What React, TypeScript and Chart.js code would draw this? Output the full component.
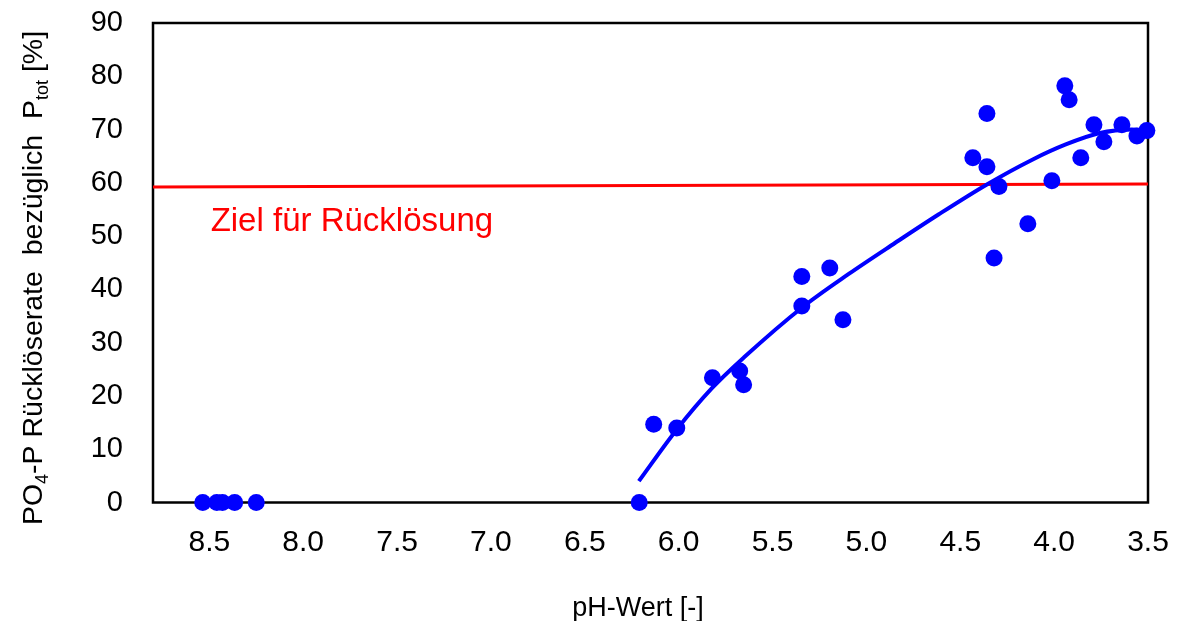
import React, { useEffect, useRef } from "react";
import { Chart, registerables } from "chart.js";

Chart.register(...registerables);

// Measured points: pH value and PO4-P release rate [%]
const measuredPH = [8.535, 8.46, 8.43, 8.365, 8.25, 6.21, 6.133, 6.01, 5.82, 5.675, 5.654, 5.344, 5.344, 5.195, 5.125, 4.433, 4.358, 4.358, 4.294, 4.32, 4.14, 4.012, 3.943, 3.92, 3.858, 3.788, 3.735, 3.639, 3.559, 3.506];
const measuredRate = [0, 0, 0, 0, 0, 0, 14.7, 14.0, 23.4, 24.7, 22.1, 42.4, 36.9, 44.0, 34.3, 64.7, 73.0, 63.0, 59.3, 45.9, 52.3, 60.4, 78.2, 75.6, 64.7, 70.9, 67.7, 70.9, 68.8, 69.8];

// Trend line
const trendPH = [6.212, 6.01, 5.824, 5.653, 5.339, 5.094, 4.848, 4.614, 4.358, 4.119, 3.938, 3.762, 3.586, 3.506];
const trendRate = [4.0, 13.7, 21.4, 27.2, 36.7, 42.9, 48.7, 54.1, 59.7, 64.3, 67.2, 69.3, 70.0, 69.8];

// Target line
const targetPH = [8.8, 3.5];
const targetRate = [59.2, 59.8];
const targetLabel = "Ziel für Rücklösung";
const targetLabelPH = 8.493;
const targetLabelRate = 51.0;

// Axes
const xTicks = [8.5, 8.0, 7.5, 7.0, 6.5, 6.0, 5.5, 5.0, 4.5, 4.0, 3.5];
const xMin = 3.5;
const xMax = 8.8;
const yMin = 0;
const yMax = 90;
const yStep = 10;
const xTitle = "pH-Wert [-]";
const yTitleParts: { t: string; sub: boolean }[] = [
  { t: "PO", sub: false },
  { t: "4", sub: true },
  { t: "-P Rücklöserate  bezüglich  P", sub: false },
  { t: "tot", sub: true },
  { t: " [%]", sub: false },
];

const FONT = "'Liberation Sans', Arial, sans-serif";

export default function App() {
  const ref = useRef<HTMLCanvasElement | null>(null);

  useEffect(() => {
    if (!ref.current) return;

    const boxPlugin = {
      id: "boxPlugin",
      beforeDatasetsDraw(chart: any) {
        const { ctx, chartArea } = chart;
        ctx.save();
        ctx.strokeStyle = "#000";
        ctx.lineWidth = 2.5;
        ctx.strokeRect(chartArea.left, chartArea.top, chartArea.right - chartArea.left, chartArea.bottom - chartArea.top);
        ctx.restore();
      },
    };

    const textPlugin = {
      id: "textPlugin",
      afterDraw(chart: any) {
        const { ctx, scales } = chart;
        const xs = scales.x;
        const ys = scales.y;
        ctx.save();
        // target label
        ctx.fillStyle = "#ff0000";
        ctx.font = `33px ${FONT}`;
        ctx.textAlign = "left";
        ctx.textBaseline = "alphabetic";
        ctx.fillText(targetLabel, xs.getPixelForValue(targetLabelPH), ys.getPixelForValue(targetLabelRate));

        // x title
        ctx.fillStyle = "#000";
        ctx.font = `27px ${FONT}`;
        ctx.textAlign = "center";
        ctx.fillText(xTitle, 638, 616);

        // y title with subscripts
        const size = 28.5;
        const subSize = 18;
        const measure = (p: { t: string; sub: boolean }) => {
          ctx.font = `${p.sub ? subSize : size}px ${FONT}`;
          return ctx.measureText(p.t).width;
        };
        const total = yTitleParts.reduce((s, p) => s + measure(p), 0);
        ctx.translate(42, 278);
        ctx.rotate(-Math.PI / 2);
        ctx.textAlign = "left";
        let x = -total / 2;
        for (const p of yTitleParts) {
          ctx.font = `${p.sub ? subSize : size}px ${FONT}`;
          ctx.fillText(p.t, x, p.sub ? 6 : 0);
          x += ctx.measureText(p.t).width;
        }
        ctx.restore();
      },
    };

    const chart = new Chart(ref.current, {
      type: "scatter",
      data: {
        datasets: [
          {
            label: "Messwerte",
            data: measuredPH.map((x, i) => ({ x, y: measuredRate[i] })),
            backgroundColor: "#0000ff",
            borderColor: "#0000ff",
            pointRadius: 8.5,
            pointBorderWidth: 0,
            showLine: false,
            clip: false as any,
          },
          {
            label: "Trend",
            data: trendPH.map((x, i) => ({ x, y: trendRate[i] })),
            borderColor: "#0000ff",
            backgroundColor: "#0000ff",
            borderWidth: 4,
            pointRadius: 0,
            showLine: true,
            cubicInterpolationMode: "monotone",
          },
          {
            label: "Ziel",
            data: targetPH.map((x, i) => ({ x, y: targetRate[i] })),
            borderColor: "#ff0000",
            backgroundColor: "#ff0000",
            borderWidth: 3,
            pointRadius: 0,
            showLine: true,
          },
        ],
      },
      options: {
        animation: false,
        responsive: true,
        maintainAspectRatio: false,
        layout: { padding: { left: 0, right: 30, top: 23, bottom: 0 } },
        plugins: { legend: { display: false }, tooltip: { enabled: false } },
        scales: {
          x: {
            type: "linear",
            reverse: true,
            min: xMin,
            max: xMax,
            grid: { display: false, drawTicks: false },
            border: { display: false },
            afterBuildTicks: (scale: any) => {
              scale.ticks = xTicks.map((v) => ({ value: v }));
            },
            afterFit: (scale: any) => {
              scale.height = 118.5;
              scale.paddingLeft = 0;
              scale.paddingRight = 0;
              scale.paddingTop = 0;
              scale.paddingBottom = 0;
            },
            ticks: {
              color: "#000",
              font: { family: FONT, size: 30 },
              padding: 22,
              maxRotation: 0,
              autoSkip: false,
              callback: (v: any) => Number(v).toFixed(1),
            },
          },
          y: {
            type: "linear",
            min: yMin,
            max: yMax,
            grid: { display: false, drawTicks: false },
            border: { display: false },
            afterFit: (scale: any) => {
              scale.width = 153;
              scale.paddingLeft = 0;
              scale.paddingRight = 0;
              scale.paddingTop = 0;
              scale.paddingBottom = 0;
            },
            ticks: {
              color: "#000",
              stepSize: yStep,
              font: { family: FONT, size: 29 },
              padding: 30,
            },
          },
        },
      },
      plugins: [boxPlugin, textPlugin],
    } as any);

    return () => chart.destroy();
  }, []);

  return (
    <div style={{ position: "fixed", left: 0, top: 0, width: 1178, height: 621, background: "#fff" }}>
      <canvas ref={ref} />
    </div>
  );
}
